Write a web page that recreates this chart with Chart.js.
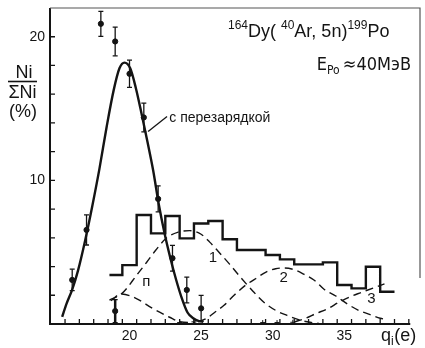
<!DOCTYPE html>
<html><head><meta charset="utf-8">
<script src="https://cdn.jsdelivr.net/npm/chart.js@4/dist/chart.umd.min.js"></script>
<style>html,body{margin:0;padding:0;background:#fff;}canvas{display:block;}</style>
</head><body>
<canvas id="c" width="425" height="348"></canvas>
<script>
// measured points with error bars
const pointQ   = [16, 17, 18, 19, 20, 21, 22, 23, 24, 25];
const pointVal = [3.07, 6.55, 20.9, 19.67, 17.42, 14.38, 8.71, 4.58, 2.37, 1.09];
const pointErr = [0.75, 1.05, 0.87, 1.0, 0.95, 1.0, 0.9, 0.9, 0.9, 0.9];
// low point at q=19
const lowQ   = [19];
const lowVal = [0.9];
const lowErr = [0.8];
// marks near zero
const zeroQ   = [23.5, 24.5, 29.3, 30.3, 31.4];
const zeroVal = [0.1, 0.15, 0.1, 0.1, 0.12];
// solid fit curve "с перезарядкой"
const fitQ   = [15.3, 15.6, 16.0, 16.4, 16.9, 17.4, 17.9, 18.4, 18.9, 19.3, 19.65, 20.05, 20.45, 20.85, 21.25, 21.65, 22.05, 22.45, 22.85, 23.25, 23.65, 24.05, 24.45, 24.85, 25.15];
const fitVal = [0.5, 1.4, 2.4, 3.7, 5.8, 8.2, 10.8, 13.7, 16.3, 17.8, 18.2, 17.8, 16.4, 14.6, 12.7, 10.7, 8.3, 6.3, 4.6, 3.1, 1.8, 0.8, 0.4, 0.2, 0.15];
// histogram
const histEdges = [18.6, 19.5, 20.5, 21.5, 22.5, 23.5, 24.5, 25.5, 26.5, 27.5, 28.5, 29.5, 30.5, 31.5, 32.5, 33.5, 34.5, 35.5, 36.5, 37.5, 38.5];
const histVal   = [3.41, 4.1, 7.59, 6.31, 7.52, 5.96, 7.0, 7.17, 5.9, 5.15, 5.15, 4.8, 4.5, 4.15, 4.15, 4.29, 2.71, 2.48, 3.99, 2.25];
// dashed component curves
const curveNQ   = [18.7, 19.4, 20.45, 21.6, 22.8, 23.5, 24.6];
const curveNVal = [1.62, 2.09, 1.79, 1.09, 0.47, 0.16, 0.09];
const curve1Q   = [18.6, 19.5, 20.5, 21.2, 21.8, 22.6, 23.4, 24.2, 25.0, 25.6, 26.2, 27.0, 27.8, 28.6, 29.4, 30.2, 31.0, 31.8, 32.6, 33.2];
const curve1Val = [1.67, 2.15, 3.4, 4.3, 5.1, 6.0, 6.4, 6.5, 6.25, 5.7, 5.05, 4.15, 3.2, 2.3, 1.5, 0.95, 0.6, 0.3, 0.12, 0.05];
const curve2Q   = [24.8, 25.4, 26.0, 26.6, 27.3, 28.1, 28.8, 29.5, 30.2, 30.8, 31.5, 32.2, 32.9, 33.6, 34.4, 35.2, 36.0, 36.8, 37.5, 38.0];
const curve2Val = [0.15, 0.4, 0.85, 1.3, 2.0, 2.7, 3.15, 3.6, 3.85, 3.9, 3.78, 3.45, 3.05, 2.4, 1.95, 1.4, 0.95, 0.65, 0.4, 0.3];
const curve3Q   = [31.5, 32.3, 33.0, 33.8, 34.6, 35.4, 36.2, 37.0, 37.8];
const curve3Val = [0.15, 0.4, 0.72, 1.05, 1.5, 1.9, 2.2, 2.5, 2.8];
// axis ticks and labels
const xTickLabels = [20, 25, 30, 35];
const xMinorTicks = [15.5,16.5,17.5,18.5,19.5,20.5,21.5,22.5,23.5,24.5,25.5,26.5,27.5,28.5,29.5,30.5,31.5,32.5,33.5,34.5,35.5,36.5,37.5,38.5,39.5];
const yTickLabels = [10, 20];
const yMinorTicks = [2,4,6,8,10,12,14,16,18,20];
const curveLabels = [
  {text:'1', q:25.83, v:4.59},
  {text:'2', q:30.76, v:3.2},
  {text:'3', q:36.88, v:1.74},
  {text:'п', q:21.18, v:2.92}
];

const pts = (xs, ys) => xs.map((q, i) => ({x:q, y:ys[i]}));
const histPts = histEdges.map((e, i) => ({x:e, y:histVal[Math.min(i, histVal.length-1)]}));
const INK = '#141414';
const FONT = "'Liberation Sans', Arial, sans-serif";
const NARROW = "'Liberation Sans Narrow', 'DejaVu Sans Condensed', sans-serif";

const dashed = (data) => ({type:'line', data, borderColor:INK, borderWidth:1.4, borderDash:[8,5], pointRadius:0, tension:0.4, cubicInterpolationMode:'monotone', fill:false});

const deco = {
  id:'deco',
  afterDatasetsDraw(chart){
    const {ctx, chartArea:a} = chart;
    const x = chart.scales.x, y = chart.scales.y;
    ctx.save();
    ctx.strokeStyle = INK; ctx.fillStyle = INK;
    // error bars
    const bars = (qs, vs, es, w) => qs.forEach((q, i) => {
      const px = x.getPixelForValue(q);
      const t = y.getPixelForValue(vs[i] + es[i]);
      const b = y.getPixelForValue(Math.max(0, vs[i] - es[i]));
      ctx.lineWidth = w; ctx.beginPath(); ctx.moveTo(px, t); ctx.lineTo(px, b); ctx.stroke();
      ctx.lineWidth = 1.3; ctx.beginPath();
      ctx.moveTo(px-2.5, t); ctx.lineTo(px+2.5, t);
      ctx.moveTo(px-2.5, b); ctx.lineTo(px+2.5, b); ctx.stroke();
    });
    bars(pointQ, pointVal, pointErr, 1.3);
    bars(lowQ, lowVal, lowErr, 2.5);
    // axes
    ctx.lineWidth = 2;
    ctx.beginPath();
    ctx.moveTo(a.left, a.top); ctx.lineTo(a.left, a.bottom);
    ctx.lineTo(x.getPixelForValue(39.6), a.bottom);
    ctx.stroke();
    // frame
    ctx.lineWidth = 1.2; ctx.strokeStyle = '#555';
    ctx.beginPath();
    ctx.moveTo(a.left, a.top); ctx.lineTo(a.right, a.top); ctx.lineTo(a.right, y.getPixelForValue(3.2));
    ctx.stroke();
    ctx.strokeStyle = INK;
    // ticks (inward)
    ctx.lineWidth = 1.3;
    ctx.beginPath();
    yMinorTicks.forEach(v => { const py = y.getPixelForValue(v); ctx.moveTo(a.left, py); ctx.lineTo(a.left+5, py); });
    xMinorTicks.forEach(v => { const px = x.getPixelForValue(v); ctx.moveTo(px, a.bottom); ctx.lineTo(px, a.bottom-5); });
    ctx.stroke();
    // tick labels
    ctx.font = '14px ' + FONT;
    ctx.textAlign = 'right'; ctx.textBaseline = 'middle';
    yTickLabels.forEach(v => ctx.fillText(String(v), a.left-5, y.getPixelForValue(v)));
    ctx.textAlign = 'center'; ctx.textBaseline = 'alphabetic';
    xTickLabels.forEach(v => ctx.fillText(String(v), x.getPixelForValue(v), a.bottom+16));
    // curve labels
    ctx.font = '15px ' + FONT; ctx.textBaseline = 'middle';
    curveLabels.forEach(l => ctx.fillText(l.text, x.getPixelForValue(l.q), y.getPixelForValue(l.v)));
    // annotation leader + text
    ctx.lineWidth = 1.3;
    ctx.beginPath();
    ctx.moveTo(x.getPixelForValue(21.3), y.getPixelForValue(13.4));
    ctx.lineTo(x.getPixelForValue(22.62), y.getPixelForValue(14.45));
    ctx.stroke();
    ctx.font = '14px ' + FONT; ctx.textAlign = 'left'; ctx.textBaseline = 'alphabetic';
    ctx.fillText('с перезарядкой', x.getPixelForValue(22.78), y.getPixelForValue(14.05));
    // y axis title
    ctx.font = '18px ' + FONT; ctx.textAlign = 'center';
    ctx.fillText('Ni', 24, 78);
    ctx.lineWidth = 1.6; ctx.beginPath(); ctx.moveTo(8, 81.5); ctx.lineTo(37, 81.5); ctx.stroke();
    ctx.fillText('ΣNi', 22.5, 98);
    ctx.fillText('(%)', 23, 117);
    // x axis title q_i(e)
    ctx.textAlign = 'left';
    let cx = 381;
    ctx.font = '18px ' + FONT; ctx.fillText('q', cx, 341); cx += ctx.measureText('q').width;
    ctx.font = '12px ' + FONT; ctx.fillText('i', cx, 345); cx += ctx.measureText('i').width + 0.5;
    ctx.font = '18px ' + FONT; ctx.fillText('(e)', cx, 341);
    // reaction title
    const widthOf = (parts, fam) => parts.reduce((s, p) => { ctx.font = (p.s ? '12px ' : '18px ') + fam; return s + ctx.measureText(p.t).width; }, 0);
    const run = (parts, sx, base, fam) => {
      let px = sx;
      parts.forEach(p => {
        ctx.font = (p.s ? '12px ' : '18px ') + fam;
        const dy = p.s === 'sup' ? -8 : (p.s === 'sub' ? 4 : 0);
        ctx.fillText(p.t, px, base + dy);
        px += ctx.measureText(p.t).width;
      });
    };
    const row1 = [{t:'164', s:'sup'}, {t:'Dy( '}, {t:'40', s:'sup'}, {t:'Ar, 5n)'}, {t:'199', s:'sup'}, {t:'Po'}];
    const row2 = [{t:'E'}, {t:'Po', s:'sub'}, {t:'\u2009≈40МэВ'}];
    run(row1, 228, 37, FONT);
    run(row2, 411 - widthOf(row2, NARROW), 70, NARROW);
    ctx.restore();
  }
};

new Chart(document.getElementById('c'), {
  type:'scatter',
  data:{
    datasets:[
      {type:'line', data:pts(fitQ, fitVal), borderColor:INK, borderWidth:2.4, pointRadius:0, tension:0.4, cubicInterpolationMode:'monotone', fill:false},
      {type:'line', data:histPts, stepped:'before', borderColor:INK, borderWidth:2.4, pointRadius:0, fill:false},
      dashed(pts(curveNQ, curveNVal)),
      dashed(pts(curve1Q, curve1Val)),
      dashed(pts(curve2Q, curve2Val)),
      dashed(pts(curve3Q, curve3Val)),
      {data:pts(pointQ, pointVal), pointRadius:2.6, pointBackgroundColor:INK, pointBorderColor:INK, showLine:false},
      {data:pts(lowQ, lowVal), pointRadius:2.6, pointBackgroundColor:INK, pointBorderColor:INK, showLine:false},
      {data:pts(zeroQ, zeroVal), pointStyle:'cross', pointRadius:2.5, borderWidth:1, pointBorderColor:INK, showLine:false}
    ]
  },
  options:{
    responsive:false, animation:false, devicePixelRatio:1,
    layout:{padding:{left:50, top:8, right:3, bottom:24}},
    plugins:{legend:{display:false}, tooltip:{enabled:false}},
    scales:{
      x:{type:'linear', min:14.45, max:40.28, display:false},
      y:{type:'linear', min:0, max:22, display:false}
    }
  },
  plugins:[deco]
});
</script>
</body></html>
